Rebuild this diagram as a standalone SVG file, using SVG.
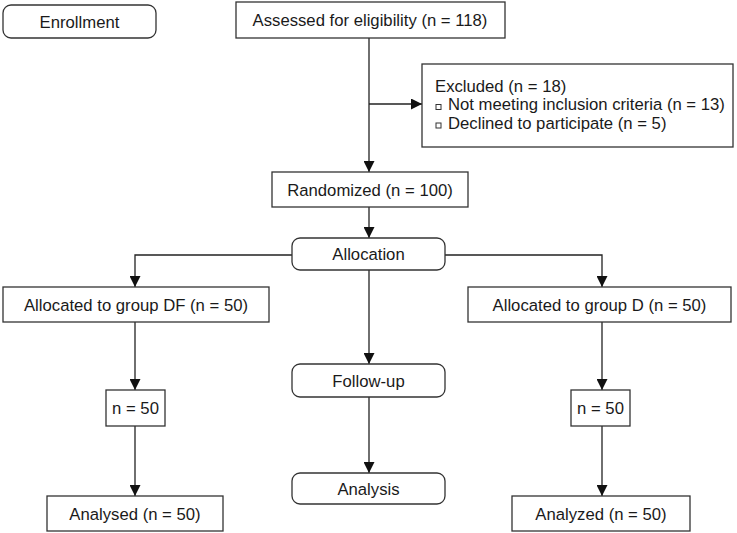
<svg xmlns="http://www.w3.org/2000/svg" width="737" height="533" viewBox="0 0 737 533">
<style>
.box{fill:#fff;stroke:#333;stroke-width:1.3}
.t{font-family:"Liberation Sans",Arial,sans-serif;font-size:16.7px;fill:#1a1a1a}
.c{text-anchor:middle}
.ln{fill:none;stroke:#222;stroke-width:1.3}
.bul{fill:#fff;stroke:#333;stroke-width:1}
</style>
<defs>
<marker id="ah" viewBox="0 0 11 11" refX="11" refY="5.5" markerWidth="11" markerHeight="11" markerUnits="userSpaceOnUse" orient="auto">
<path d="M0,0 L11,5.5 L0,11 z" fill="#111"/>
</marker>
</defs>
<rect width="737" height="533" fill="#fff"/>
<g id="connectors">
<path class="ln" d="M369,38 V172" marker-end="url(#ah)"/>
<path class="ln" d="M369,104 H422" marker-end="url(#ah)"/>
<path class="ln" d="M369,207 V238" marker-end="url(#ah)"/>
<path class="ln" d="M292,255 H135 V287" marker-end="url(#ah)"/>
<path class="ln" d="M445,255 H602 V287" marker-end="url(#ah)"/>
<path class="ln" d="M135,322 V390" marker-end="url(#ah)"/>
<path class="ln" d="M135,426 V496" marker-end="url(#ah)"/>
<path class="ln" d="M602,322 V390" marker-end="url(#ah)"/>
<path class="ln" d="M602,426 V496" marker-end="url(#ah)"/>
<path class="ln" d="M369,270 V364" marker-end="url(#ah)"/>
<path class="ln" d="M369,397 V473" marker-end="url(#ah)"/>
</g>
<g id="enrollment"><rect class="box" x="3" y="5" width="153" height="33" rx="8"/><text class="t c" x="79.5" y="27.5">Enrollment</text></g>
<g id="assessed"><rect class="box" x="236" y="2" width="269" height="36"/><text class="t c" x="370" y="26">Assessed for eligibility (n = 118)</text></g>
<g id="excluded"><rect class="box" x="422" y="64" width="311" height="83"/>
<text class="t" x="435" y="91.5">Excluded (n = 18)</text>
<rect class="bul" x="436" y="104.5" width="5" height="5"/>
<text class="t" x="448" y="110">Not meeting inclusion criteria (n = 13)</text>
<rect class="bul" x="436" y="123" width="5" height="5"/>
<text class="t" x="448" y="128.5">Declined to participate (n = 5)</text></g>
<g id="randomized"><rect class="box" x="272" y="172" width="196" height="35"/><text class="t c" x="370" y="195.5">Randomized (n = 100)</text></g>
<g id="allocation"><rect class="box" x="292" y="238" width="153" height="32" rx="8"/><text class="t c" x="368.5" y="260">Allocation</text></g>
<g id="groupDF"><rect class="box" x="3" y="287" width="266" height="35"/><text class="t c" x="136" y="310.5">Allocated to group DF (n = 50)</text></g>
<g id="groupD"><rect class="box" x="468" y="287" width="263" height="35"/><text class="t c" x="599.5" y="310.5">Allocated to group D (n = 50)</text></g>
<g id="followDF"><rect class="box" x="106" y="390" width="59" height="36"/><text class="t c" x="135.5" y="414">n = 50</text></g>
<g id="followD"><rect class="box" x="571" y="390" width="59" height="36"/><text class="t c" x="600.5" y="414">n = 50</text></g>
<g id="followup"><rect class="box" x="292" y="364" width="153" height="33" rx="8"/><text class="t c" x="368.5" y="386.5">Follow-up</text></g>
<g id="analysedDF"><rect class="box" x="47" y="496" width="176" height="35"/><text class="t c" x="135" y="519.5">Analysed (n = 50)</text></g>
<g id="analysis"><rect class="box" x="292" y="473" width="153" height="31" rx="8"/><text class="t c" x="368.5" y="494.5">Analysis</text></g>
<g id="analyzedD"><rect class="box" x="512" y="496" width="178" height="35"/><text class="t c" x="601" y="519.5">Analyzed (n = 50)</text></g>
</svg>
